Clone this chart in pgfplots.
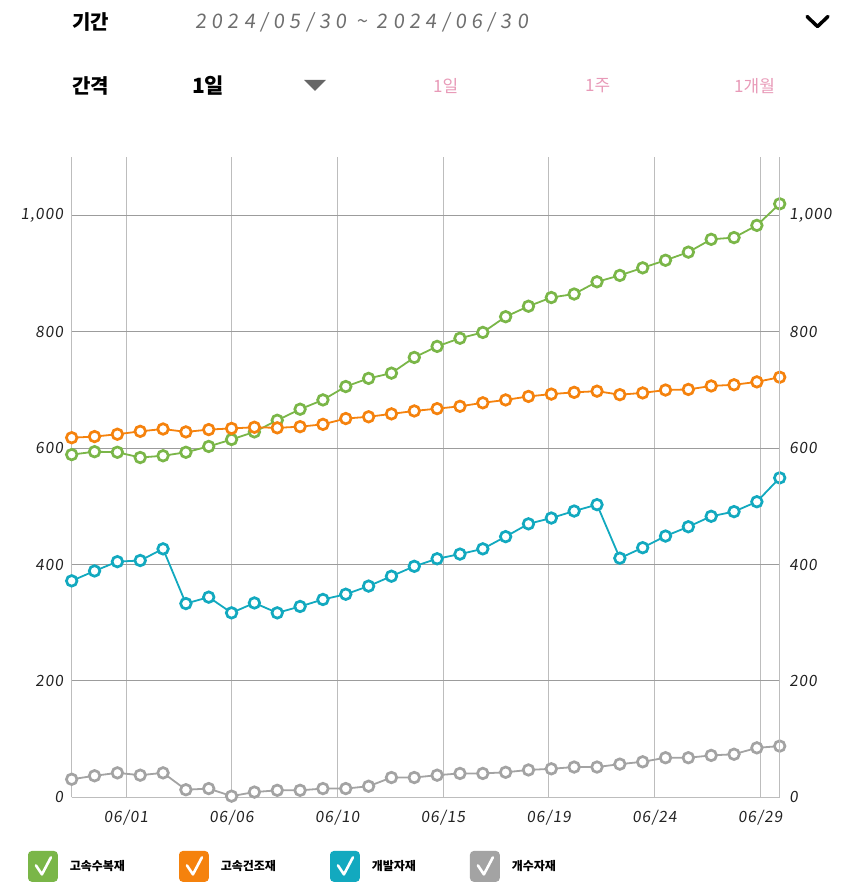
\documentclass[border=0pt]{standalone}
\usepackage{pgfplots}
\pgfplotsset{compat=1.18}
\usepackage{fontspec}
\setmainfont{Noto Sans CJK KR}
\newfontfamily\tickfont[FakeSlant=0.12,LetterSpace=6]{Noto Sans CJK KR}
\newfontfamily\datefont[FakeSlant=0.12,LetterSpace=26]{Noto Sans CJK KR}
\definecolor{cgreen}{HTML}{7AB648}
\definecolor{corange}{HTML}{F5820D}
\definecolor{cteal}{HTML}{12A9BF}
\definecolor{cgray}{HTML}{A3A3A3}
\definecolor{cpink}{HTML}{E89AB8}
\definecolor{hgrid}{HTML}{9C9C9C}
\definecolor{vgrid}{HTML}{BDBDBD}
\definecolor{dategray}{HTML}{6E6E6E}
\definecolor{tickcol}{HTML}{222222}
\begin{document}
\begin{tikzpicture}
\useasboundingbox (0pt,0pt) rectangle (850pt,893pt);
% header row 1
\node[anchor=west, inner sep=0pt, font=\bfseries\fontsize{20}{20}\selectfont] at (72pt,871pt) {기간};
\node[anchor=west, inner sep=0pt, text=dategray, font=\datefont\fontsize{20}{20}\selectfont] at (195pt,871pt) {2024/05/30 \textasciitilde{} 2024/06/30};
\draw[line width=3.5pt, line cap=round, line join=round] (807pt,876.5pt) -- (817.5pt,866.5pt) -- (828pt,876.5pt);
% header row 2
\node[anchor=west, inner sep=0pt, font=\bfseries\fontsize{20}{20}\selectfont] at (72pt,807pt) {간격};
\node[anchor=west, inner sep=0pt, font=\bfseries\fontsize{21}{21}\selectfont] at (192pt,807pt) {1일};
\fill[black!60] (304pt,813pt) -- (326pt,813pt) -- (315pt,802pt) -- cycle;
\node[anchor=west, inner sep=0pt, text=cpink, font=\fontsize{17}{17}\selectfont] at (433pt,807pt) {1일};
\node[anchor=west, inner sep=0pt, text=cpink, font=\fontsize{17}{17}\selectfont] at (585pt,807pt) {1주};
\node[anchor=west, inner sep=0pt, text=cpink, font=\fontsize{17}{17}\selectfont] at (734pt,807pt) {1개월};

\begin{axis}[
  at={(71.7pt,95.7pt)}, anchor=south west,
  width=708pt, height=640pt, scale only axis,
  xmin=0, xmax=31, ymin=0, ymax=1100,
  clip=false,
  axis x line*=bottom, axis y line*=left,
  axis line style={draw=vgrid, line width=1pt, -},
  xtick={2.38,7.0,11.63,16.26,20.89,25.52,30.15},
  xticklabels={06/01,06/06,06/10,06/15,06/19,06/24,06/29},
  ytick={0,200,400,600,800,1000},
  yticklabels={0,200,400,600,800,{1,000}},
  major tick length=0pt,
  xmajorgrids, ymajorgrids,
  x grid style={vgrid, line width=1pt},
  y grid style={hgrid, line width=1pt},
  tick label style={font=\tickfont\fontsize{15.5}{15.5}\selectfont, text=tickcol},
  xticklabel style={yshift=-9pt},
  yticklabel style={xshift=-5pt},
  legend columns=4,
  legend style={draw=none, fill=none, at={(-0.0617,-0.0839)}, anchor=north west,
    inner sep=0pt, outer sep=0pt,
    font=\bfseries\fontsize{12}{12}\selectfont,
    /tikz/every odd column/.append style={column sep=10pt},
    /tikz/every even column/.append style={column sep=52pt}},
  legend image code/.code={
    \fill[rounded corners=3pt] (0pt,-14.5pt) rectangle (28pt,14.5pt);
    \draw[white, line width=2.6pt, line cap=round, line join=round] (7pt,1pt) -- (13pt,-8pt) -- (22pt,9pt);
  },
  every axis plot/.append style={line width=1.8pt, mark=*, mark size=5.3pt, mark options={fill=white, line width=2.7pt}},
]
\addplot[cgreen] coordinates {(0,589)(1,594)(2,593)(3,584)(4,587)(5,593)(6,603)(7,615)(8,628)(9,648)(10,667)(11,683)(12,706)(13,720)(14,729)(15,756)(16,775)(17,789)(18,799)(19,826)(20,844)(21,859)(22,865)(23,886)(24,897)(25,910)(26,923)(27,937)(28,959)(29,962)(30,983)(31,1020)};
\addlegendentry{고속수복재}
\addplot[corange] coordinates {(0,618)(1,620)(2,624)(3,629)(4,633)(5,628)(6,632)(7,634)(8,636)(9,635)(10,637)(11,641)(12,651)(13,654)(14,659)(15,664)(16,668)(17,672)(18,678)(19,683)(20,689)(21,693)(22,696)(23,698)(24,692)(25,695)(26,700)(27,701)(28,707)(29,709)(30,714)(31,722)};
\addlegendentry{고속건조재}
\addplot[cteal] coordinates {(0,372)(1,389)(2,405)(3,407)(4,427)(5,333)(6,344)(7,317)(8,334)(9,317)(10,328)(11,340)(12,349)(13,363)(14,380)(15,397)(16,410)(17,418)(18,427)(19,448)(20,470)(21,480)(22,492)(23,503)(24,411)(25,429)(26,449)(27,465)(28,483)(29,491)(30,508)(31,549)};
\addlegendentry{개발자재}
\addplot[cgray] coordinates {(0,31)(1,37)(2,42)(3,38)(4,42)(5,13)(6,15)(7,2)(8,9)(9,12)(10,12)(11,15)(12,15)(13,19)(14,34)(15,34)(16,38)(17,41)(18,41)(19,43)(20,47)(21,49)(22,52)(23,52)(24,57)(25,61)(26,68)(27,68)(28,72)(29,74)(30,85)(31,88)};
\addlegendentry{개수자재}
\end{axis}

\begin{axis}[
  at={(71.7pt,95.7pt)}, anchor=south west,
  width=708pt, height=640pt, scale only axis,
  xmin=0, xmax=31, ymin=0, ymax=1100,
  axis x line=none, axis y line*=right,
  axis line style={draw=vgrid, line width=1pt, -},
  ytick={0,200,400,600,800,1000},
  yticklabels={0,200,400,600,800,{1,000}},
  major tick length=0pt,
  tick label style={font=\tickfont\fontsize{15.5}{15.5}\selectfont, text=tickcol},
  yticklabel style={xshift=6pt},
]
\end{axis}
\end{tikzpicture}
\end{document}
